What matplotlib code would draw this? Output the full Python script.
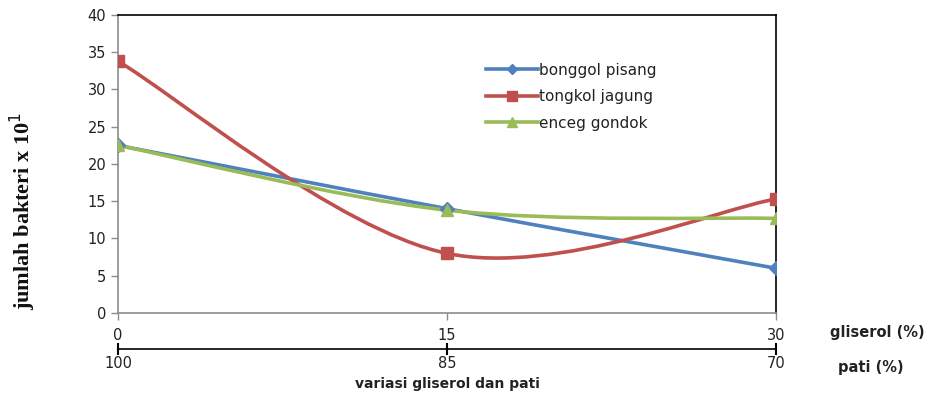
import matplotlib
matplotlib.use("Agg")
from matplotlib import pyplot as plt
from matplotlib.path import Path
from matplotlib.patches import PathPatch
from matplotlib.lines import Line2D

# data
gliserol = [0, 15, 30]
pati = [100, 85, 70]
bonggol_pisang = [22.5, 14.0, 6.0]
tongkol_jagung = [33.8, 8.0, 15.3]
enceg_gondok = [22.5, 13.8, 12.7]

series = [
  ("bonggol pisang", bonggol_pisang, "#4F81BD", "D", 7),
  ("tongkol jagung", tongkol_jagung, "#C0504D", "s", 9),
  ("enceg gondok", enceg_gondok, "#9BBB59", "^", 9),
]


def smooth_path(xs, ys):
  # excel-style smoothed line: bezier with control points from neighbours
  pts = list(zip(xs, ys))
  verts = [pts[0]]
  codes = [Path.MOVETO]
  n = len(pts)
  for i in range(n - 1):
    p0 = pts[max(i - 1, 0)]
    p1 = pts[i]
    p2 = pts[i + 1]
    p3 = pts[min(i + 2, n - 1)]
    c1 = (p1[0] + (p2[0] - p0[0]) / 6, p1[1] + (p2[1] - p0[1]) / 6)
    c2 = (p2[0] - (p3[0] - p1[0]) / 6, p2[1] - (p3[1] - p1[1]) / 6)
    verts += [c1, c2, p2]
    codes += [Path.CURVE4] * 3
  return Path(verts, codes)


fig = plt.figure(figsize=(9.38, 4.01), dpi=100)
ax = fig.add_axes([0.1258, 0.2195, 0.7015, 0.7431])

handles = []
for name, vals, col, mk, ms in series:
  ax.add_patch(PathPatch(smooth_path(gliserol, vals), fill=False, edgecolor=col,
                         lw=2.6, capstyle="round", zorder=3))
  ax.plot(gliserol, vals, ls="none", marker=mk, ms=ms, color=col, zorder=4)
  handles.append(Line2D([], [], color=col, lw=2.6, marker=mk, ms=ms - 2))

ax.set_xlim(0, 30)
ax.set_ylim(0, 40)
ax.set_yticks(range(0, 41, 5))
ax.set_xticks(gliserol)
ax.set_xticklabels([str(g) for g in gliserol])

for s in ["left", "bottom"]:
  ax.spines[s].set_color("#8c8c8c")
  ax.spines[s].set_linewidth(1.2)
for s in ["top", "right"]:
  ax.spines[s].set_color("black")
  ax.spines[s].set_linewidth(1.2)
ax.tick_params(axis="both", colors="#8c8c8c", labelcolor="#222222",
               labelsize=10.5, length=5, width=1)
ax.tick_params(axis="x", pad=6)

fig.text(0.024, 0.475, "jumlah bakteri x 10$^{1}$", family="Liberation Serif",
         fontweight="bold", fontsize=16, rotation=90, ha="center", va="center",
         color="#111111")

# secondary axis for pati
ax2 = ax.twiny()
ax2.set_xlim(ax.get_xlim())
ax2.xaxis.set_ticks_position("bottom")
ax2.xaxis.set_label_position("bottom")
ax2.spines["bottom"].set_position(("outward", 26))
ax2.spines["bottom"].set_color("black")
ax2.spines["bottom"].set_linewidth(1.2)
for s in ["top", "left", "right"]:
  ax2.spines[s].set_visible(False)
ax2.set_xticks(gliserol)
ax2.set_xticklabels([str(p) for p in pati])
ax2.tick_params(axis="x", direction="inout", length=8, width=1.5,
                labelsize=10.5, labelcolor="#222222", pad=1)
ax2.set_xlabel("variasi gliserol dan pati", fontweight="bold", fontsize=10,
               color="#222222", labelpad=4)

fig.text(0.885, 0.170, "gliserol (%)", fontweight="bold", fontsize=10.5,
         color="#222222", ha="left", va="center")
fig.text(0.893, 0.083, "pati (%)", fontweight="bold", fontsize=10.5,
         color="#222222", ha="left", va="center")

leg = ax.legend(handles, [s[0] for s in series], loc="upper left",
                bbox_to_anchor=(0.55, 0.86), frameon=False, fontsize=11,
                handlelength=3.4, handletextpad=0.1, labelspacing=0.75,
                borderaxespad=0)
for t in leg.get_texts():
  t.set_color("#222222")

fig.savefig("out.png", dpi=100)
